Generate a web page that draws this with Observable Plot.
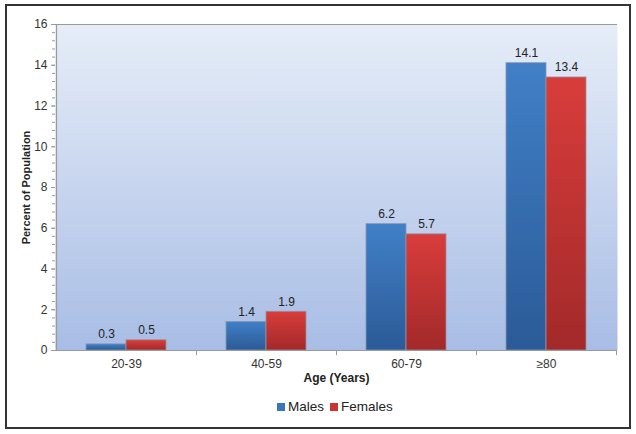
<!DOCTYPE html>
<html>
<head>
<meta charset="utf-8">
<script src="https://cdn.jsdelivr.net/npm/d3@7"></script>
<script src="https://cdn.jsdelivr.net/npm/@observablehq/plot@0.6"></script>
<style>
  html, body { margin: 0; padding: 0; background: #fff; }
  body { width: 636px; height: 434px; position: relative; overflow: hidden; font-family: "Liberation Sans", Arial, sans-serif; }
  #frame { position: absolute; left: 5px; top: 4px; width: 622px; height: 421px; border: 2px solid #333; pointer-events: none; }
  #chart { position: absolute; left: 0; top: 0; }
  #legend { position: absolute; left: 277px; top: 398px; white-space: nowrap; font-size: 13.5px; color: #222; line-height: 18px; }
  #legend span.item { display: inline-flex; align-items: center; margin-right: 6px; }
  #legend span.sw { display: inline-block; width: 8px; height: 8px; margin-right: 3px; }
</style>
</head>
<body>
<div id="chart"></div>
<div id="legend"></div>
<div id="frame"></div>
<script>
const ageGroups = ["20-39", "40-59", "60-79", "≥80"];
const males = [0.3, 1.4, 6.2, 14.1];
const females = [0.5, 1.9, 5.7, 13.4];
const seriesNames = ["Males", "Females"];
const yTicks = [0, 2, 4, 6, 8, 10, 12, 14, 16];

const maleData = ageGroups.map((a, i) => ({age: a, value: males[i]}));
const femaleData = ageGroups.map((a, i) => ({age: a, value: females[i]}));

const defs = () => {
  const d = d3.create("svg:defs");
  const mk = (id, c1, c2) => {
    const g = d.append("linearGradient").attr("id", id).attr("x1", 0).attr("y1", 0).attr("x2", 0).attr("y2", 1);
    g.append("stop").attr("offset", "0%").attr("stop-color", c1);
    g.append("stop").attr("offset", "100%").attr("stop-color", c2);
  };
  mk("bgGrad", "#e6edf8", "#a8bde5");
  mk("blueGrad", "#4180c7", "#2b5a97");
  mk("redGrad", "#d83d3b", "#a3292a");
  return d.node();
};

const chart = Plot.plot({
  width: 636,
  height: 395,
  marginLeft: 55,
  marginRight: 19,
  marginTop: 24,
  marginBottom: 45,
  style: {fontFamily: "'Liberation Sans', Arial, sans-serif", fontSize: "12px", color: "#333", background: "transparent"},
  x: {domain: ageGroups, padding: 0, label: null},
  y: {domain: [0, 16], label: null},
  marks: [
    defs,
    Plot.frame({fill: "url(#bgGrad)", stroke: null}),
    Plot.ruleY([16], {stroke: "#9a9a9a", strokeWidth: 1.2}),
    Plot.barY(maleData, {x: "age", y: "value", insetLeft: 30, insetRight: 70, fill: "url(#blueGrad)", stroke: "#8796b0", strokeWidth: 0.8}),
    Plot.barY(femaleData, {x: "age", y: "value", insetLeft: 70, insetRight: 30, fill: "url(#redGrad)", stroke: "#9a8f9f", strokeWidth: 0.8}),
    Plot.text(maleData, {x: "age", y: "value", text: d => d.value.toFixed(1), dx: -20, dy: -10, fill: "#222", fontSize: 12}),
    Plot.text(femaleData, {x: "age", y: "value", text: d => d.value.toFixed(1), dx: 20, dy: -10, fill: "#222", fontSize: 12}),
    Plot.ruleY([0], {stroke: "#9a9a9a", strokeWidth: 1.2}),
    Plot.ruleX([ageGroups[0]], {x: d => d, y1: 16, y2: 0, dx: -70, stroke: "#9a9a9a", strokeWidth: 1.2}),
    Plot.ruleX(ageGroups, {x: d => d, y1: 0, y2: -0.25, dx: 70, stroke: "#9a9a9a", clip: false}),
    Plot.axisY({ticks: d3.range(0, 16.01, 0.4), tickSize: 3, tickFormat: () => "", stroke: "#9a9a9a", label: null}),
    Plot.axisY({ticks: yTicks, tickSize: 4, tickPadding: 4, tickFormat: d => d, stroke: "#9a9a9a", fill: "#333", fontSize: 12, label: null}),
    Plot.axisX({tickSize: 0, tickPadding: 9, fill: "#333", fontSize: 12, label: null}),
    Plot.text(["Percent of Population"], {frameAnchor: "left", textAnchor: "middle", dx: -29, rotate: -90, text: d => d, fontWeight: "bold", fontSize: 11, fill: "#222"}),
    Plot.text(["Age (Years)"], {frameAnchor: "bottom", dy: 31, text: d => d, fontWeight: "bold", fontSize: 12, fill: "#222"})
  ]
});
document.getElementById("chart").appendChild(chart);

const legendColors = ["#3a74bd", "#c93334"];
const legend = document.getElementById("legend");
seriesNames.forEach((name, i) => {
  const item = document.createElement("span");
  item.className = "item";
  const sw = document.createElement("span");
  sw.className = "sw";
  sw.style.background = legendColors[i];
  item.appendChild(sw);
  item.appendChild(document.createTextNode(name));
  legend.appendChild(item);
});
</script>
</body>
</html>
